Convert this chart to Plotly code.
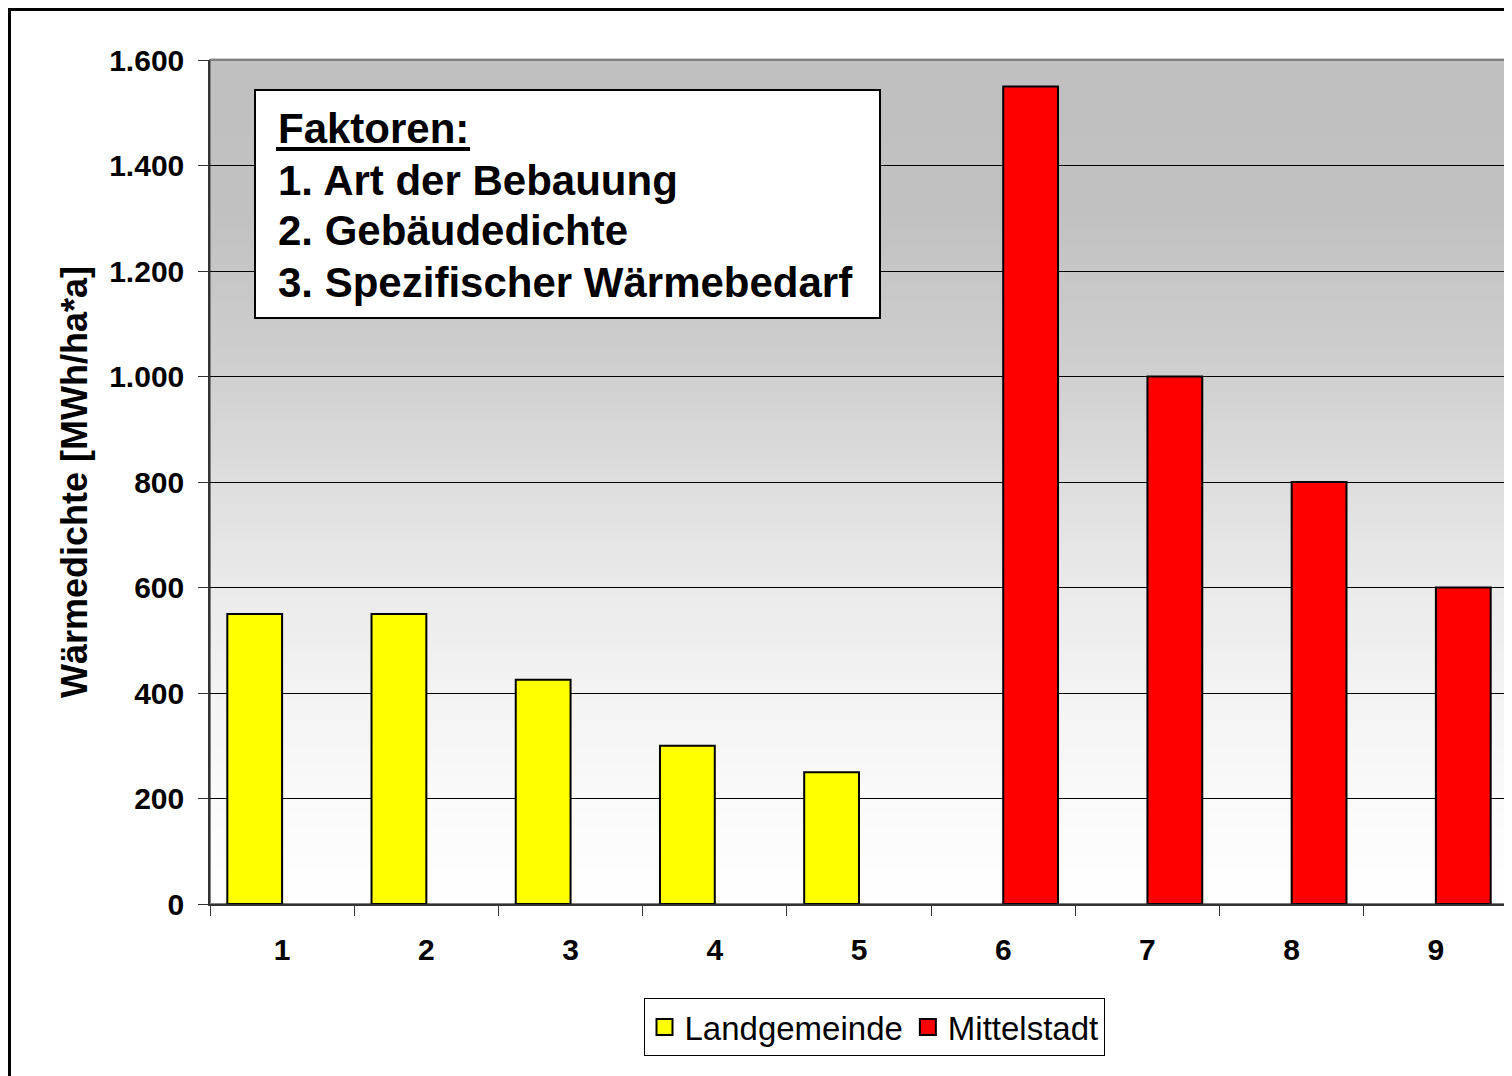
import plotly.graph_objects as go

categories = ["1", "2", "3", "4", "5", "6", "7", "8", "9"]
land_cats = ["1", "2", "3", "4", "5"]
land_vals = [550, 550, 425, 300, 250]
stadt_cats = ["6", "7", "8", "9"]
stadt_vals = [1550, 1000, 800, 600]
y_ticks = [0, 200, 400, 600, 800, 1000, 1200, 1400, 1600]
box_lines = ["Faktoren:", "1. Art der Bebauung", "2. Gebäudedichte", "3. Spezifischer Wärmebedarf"]

FONT = "Arial, Liberation Sans, sans-serif"

# the page body has an 8px margin, so the figure is 8px smaller than the window
OFF = 8
W, H = 1512 - OFF, 1076 - OFF
# plot area in screen pixels
L, R, T, B = 210, 1508, 60, 904
def px(x): return (x - L) / (R - L)
def py(y): return (B - y) / (B - T)

BAR_W = 0.38

fig = go.Figure()

fig.add_trace(go.Bar(x=land_cats, y=land_vals, name="Landgemeinde", showlegend=False,
                     width=BAR_W, offset=-BAR_W,
                     marker=dict(color="#FFFF00", line=dict(color="black", width=2))))
fig.add_trace(go.Bar(x=stadt_cats, y=stadt_vals, name="Mittelstadt", showlegend=False,
                     width=BAR_W, offset=0,
                     marker=dict(color="#FF0000", line=dict(color="black", width=2))))

# legend proxies (bigger square swatches)
for name, col in [("Landgemeinde", "#FFFF00"), ("Mittelstadt", "#FF0000")]:
    fig.add_trace(go.Scatter(x=[None], y=[None], mode="markers", name=name,
                             marker=dict(symbol="square", size=19, color=col,
                                         line=dict(color="black", width=2))))

# gradient background: (fraction of height, grey level)
stops = [(0.0, 255), (0.125, 250), (0.25, 243), (0.375, 234), (0.5, 222),
         (0.625, 208), (0.75, 198), (0.82, 193), (1.0, 192)]
def grey(f):
    for (f0, g0), (f1, g1) in zip(stops, stops[1:]):
        if f0 <= f <= f1:
            return g0 + (g1 - g0) * (f - f0) / (f1 - f0)
    return stops[-1][1]

shapes = []
n = 120
for i in range(n):
    g = int(round(grey((i + 0.5) / n)))
    shapes.append(dict(type="rect", xref="x domain", yref="y domain", x0=0, x1=1,
                       y0=i / n, y1=(i + 1) / n + 0.002, layer="below",
                       line=dict(width=0), fillcolor=f"rgb({g},{g},{g})"))
# plot area border
shapes.append(dict(type="rect", xref="paper", yref="paper", x0=0, x1=1, y0=0, y1=1,
                   layer="below", line=dict(color="#808080", width=2)))
# text box
shapes.append(dict(type="rect", xref="paper", yref="paper", x0=px(255), x1=px(880),
                   y0=py(318), y1=py(90), layer="above", fillcolor="white",
                   line=dict(color="black", width=2)))
# underline of "Faktoren:"
shapes.append(dict(type="line", xref="paper", yref="paper", x0=px(276), x1=px(470),
                   y0=py(149), y1=py(149), layer="above",
                   line=dict(color="black", width=4)))
# outer chart frame
shapes.append(dict(type="rect", xref="paper", yref="paper", x0=px(9.5), x1=px(1530),
                   y0=py(1100), y1=py(9.5), layer="above",
                   line=dict(color="black", width=3)))

annotations = []
baselines = [143, 194, 245, 296]
for line, base in zip(box_lines, baselines):
    annotations.append(dict(xref="paper", yref="paper", x=px(276), y=py(base - 14),
                            xanchor="left", yanchor="middle", showarrow=False,
                            text=line, font=dict(size=42, family=FONT, color="black",
                                                 weight="bold")))
annotations.append(dict(xref="paper", yref="paper", x=px(74), y=py(482),
                        xanchor="center", yanchor="middle", textangle=-90, showarrow=False,
                        text="Wärmedichte [MWh/ha*a]",
                        font=dict(size=36, family=FONT, color="black", weight="bold")))

fig.update_layout(
    width=W, height=H, autosize=False,
    margin=dict(l=L - OFF, r=1512 - R, t=T - OFF, b=1076 - B, pad=0),
    paper_bgcolor="white", plot_bgcolor="white",
    barmode="overlay",
    separators=",.",
    font=dict(family=FONT, color="black"),
    shapes=shapes,
    annotations=annotations,
    showlegend=True,
    legend=dict(orientation="h", x=px(874), xanchor="center", y=py(998), yanchor="top",
                bgcolor="white", bordercolor="black", borderwidth=1,
                font=dict(size=33, family=FONT), itemwidth=30, tracegroupgap=0),
)

fig.update_xaxes(type="category", categoryorder="array", categoryarray=categories,
                 range=[-0.5, 8.5],
                 tickson="boundaries", ticks="outside", ticklen=10, tickcolor="#333",
                 showgrid=False, showline=True, linecolor="#333", linewidth=1.5,
                 tickfont=dict(size=30, family=FONT, weight="bold"),
                 ticklabelstandoff=18)
fig.update_yaxes(range=[0, 1600], tickvals=y_ticks, tickformat=",d",
                 ticks="outside", ticklen=10, tickcolor="#333",
                 showgrid=True, gridcolor="black", gridwidth=1, zeroline=False,
                 showline=True, linecolor="#333", linewidth=1.5,
                 tickfont=dict(size=30, family=FONT, weight="bold"),
                 ticklabelstandoff=8)

fig.write_html("out.html")
